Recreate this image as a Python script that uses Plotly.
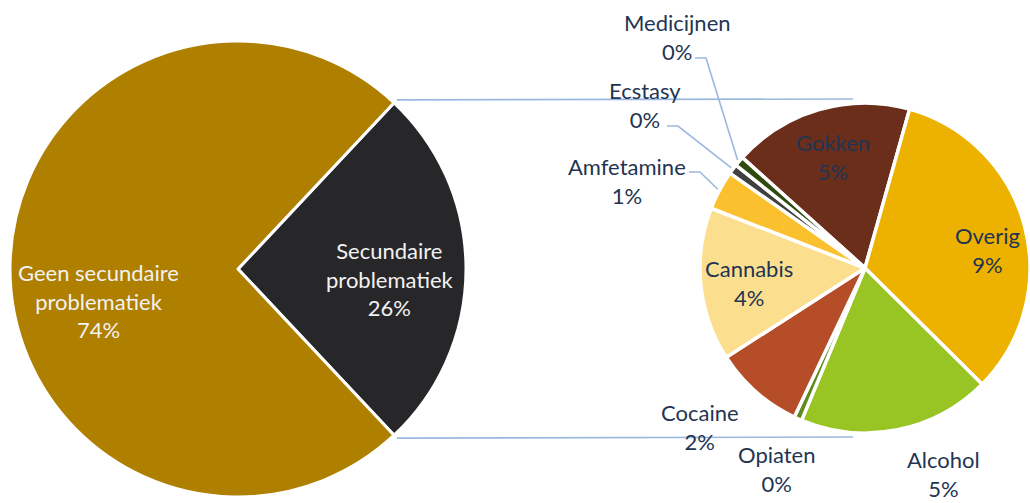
import math
import plotly.graph_objects as go

W, H = 1030, 503

# ---------------- data ----------------
main_labels = ["Secundaire problematiek", "Geen secundaire problematiek"]
main_text = ["Secundaire<br>problematiek", "Geen secundaire<br>problematiek"]
main_values = [26, 74]
main_colors = ["#27272A", "#AF7F00"]

sec_labels = ["Gokken", "Overig", "Alcohol", "Opiaten", "Cocaine",
              "Cannabis", "Amfetamine", "Ecstasy", "Medicijnen"]
sec_values = [4.6, 8.6, 4.9, 0.2, 2.3, 3.9, 1.0, 0.25, 0.25]
sec_colors = ["#6B2E1A", "#EDB100", "#98C424", "#5F8A1E", "#B44D28",
              "#FCDF8E", "#FBC02D", "#404040", "#2F4A0E"]

# ---------------- layout / style ----------------
L_CX, L_CY, L_R = 238, 269, 228
R_CX, R_CY, R_R = 865, 268, 165
MAIN_ROT = 90 - main_values[0] / sum(main_values) * 180
SEC_ROT = 312

FONT = "Lato, 'Open Sans', sans-serif"
FS = 22
DARK = "#1F3552"
LIGHT = "#F2F2F2"
LINE = "#9BB8DE"

# label centre offsets from pie centre (px)
main_label_off = [(152, 10), (-140, 32)]
sec_label_off = [(-32, -111), (122, -18), (78, 206), (-88, 201), (-165, 159),
                 (-116, 15), (-238, -87), (-220, -163), (-188, -231)]
sec_label_col = [DARK] * 9
# leader line start offsets from label centre (None = no leader)
sec_leader = [None, None, None, None, None, None, (62, -9), (22, 21), (18, 21)]


def domain(cx, cy, r):
    return dict(x=[(cx - r) / W, (cx + r) / W],
                y=[(H - (cy + r)) / H, (H - (cy - r)) / H])


def mids(values, rot):
    tot = sum(values)
    out, a = [], rot
    for v in values:
        ext = v / tot * 360
        out.append(a + ext / 2)
        a += ext
    return out


def polar(cx, cy, r, ang):
    t = math.radians(ang)
    return cx + r * math.sin(t), cy - r * math.cos(t)


fig = go.Figure()

fig.add_trace(go.Pie(
    labels=main_labels, values=main_values, sort=False, direction="clockwise",
    rotation=MAIN_ROT, marker=dict(colors=main_colors, line=dict(color="white", width=3)),
    textinfo="none", hoverinfo="label+percent", showlegend=False,
    domain=domain(L_CX, L_CY, L_R)))

fig.add_trace(go.Pie(
    labels=sec_labels, values=sec_values, sort=False, direction="clockwise",
    rotation=SEC_ROT, marker=dict(colors=sec_colors, line=dict(color="white", width=3.5)),
    textinfo="none", hoverinfo="label+value", showlegend=False,
    domain=domain(R_CX, R_CY, R_R)))

# connector lines between the pies (from the secondary slice edges)
tot = sum(main_values)
edge_a = MAIN_ROT
edge_b = MAIN_ROT + main_values[0] / tot * 360
for ang, sgn in [(edge_a, -1), (edge_b, 1)]:
    x0, y0 = polar(L_CX, L_CY, L_R + 4, ang)
    x1, y1 = R_CX - 12, R_CY + sgn * (R_R + 4)
    fig.add_trace(go.Scatter(x=[x0, x1], y=[y0, y1], mode="lines",
                             line=dict(color=LINE, width=1.6),
                             hoverinfo="skip", showlegend=False))

# leader lines
sec_mid = mids(sec_values, SEC_ROT)
for i, lead in enumerate(sec_leader):
    if lead is None:
        continue
    lx = R_CX + sec_label_off[i][0] + lead[0]
    ly = R_CY + sec_label_off[i][1] + lead[1]
    ex, ey = polar(R_CX, R_CY, R_R + 2, sec_mid[i])
    fig.add_trace(go.Scatter(x=[lx, lx + 11, ex], y=[ly, ly, ey], mode="lines",
                             line=dict(color=LINE, width=1.6),
                             hoverinfo="skip", showlegend=False))

annotations = []
for i, (t, v) in enumerate(zip(main_text, main_values)):
    annotations.append(dict(
        x=L_CX + main_label_off[i][0], y=L_CY + main_label_off[i][1],
        xref="x", yref="y", showarrow=False, align="center",
        text=f"{t}<br>{v:.0f}%", font=dict(family=FONT, size=FS, color=LIGHT)))
for i, (t, v) in enumerate(zip(sec_labels, sec_values)):
    annotations.append(dict(
        x=R_CX + sec_label_off[i][0], y=R_CY + sec_label_off[i][1],
        xref="x", yref="y", showarrow=False, align="center",
        text=f"{t}<br>{v:.0f}%", font=dict(family=FONT, size=FS, color=sec_label_col[i])))

fig.update_layout(
    width=W, height=H, margin=dict(l=0, r=0, t=0, b=0),
    paper_bgcolor="white", plot_bgcolor="rgba(0,0,0,0)",
    xaxis=dict(range=[0, W], visible=False, fixedrange=True),
    yaxis=dict(range=[H, 0], visible=False, fixedrange=True),
    annotations=annotations,
)

fig.write_html(
    "out.html",
    config={"displayModeBar": False},
    post_script="document.body.style.margin='0';document.body.style.overflow='hidden';",
)
